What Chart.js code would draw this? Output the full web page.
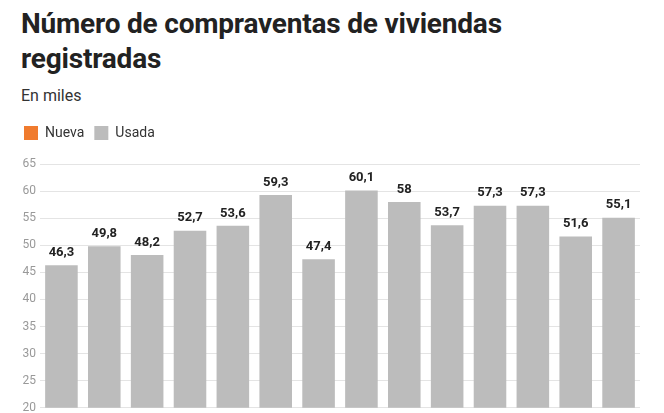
<!DOCTYPE html>
<html>
<head>
<meta charset="utf-8">
<script src="https://cdn.jsdelivr.net/npm/chart.js@4"></script>
<style>
  body { margin: 0; background: #fff; font-family: Roboto, sans-serif; overflow: hidden; width: 664px; height: 413px; position: relative; }
  h1 { margin: 0; position: absolute; left: 21px; top: 6px; font-size: 28px; line-height: 35px; font-weight: 700; color: #222; letter-spacing: -0.2px; }
  .sub { position: absolute; left: 21px; top: 86px; font-size: 16px; color: #333; }
  #wrap { position: absolute; left: 0; top: 116px; width: 664px; height: 303px; }
</style>
</head>
<body>
<h1>Número de compraventas de viviendas<br>registradas</h1>
<div class="sub">En miles</div>
<div id="wrap"><canvas id="chart"></canvas></div>
<script>
'use strict';

// data
var periods = ["1", "2", "3", "4", "5", "6", "7", "8", "9", "10", "11", "12", "13", "14"];
var nueva = [null, null, null, null, null, null, null, null, null, null, null, null, null, null];
var usada = [46.3, 49.8, 48.2, 52.7, 53.6, 59.3, 47.4, 60.1, 58, 53.7, 57.3, 57.3, 51.6, 55.1];

// value labels above bars
const barLabels = {
  id: 'barLabels',
  afterDatasetsDraw(chart) {
    const ctx = chart.ctx;
    const meta = chart.getDatasetMeta(1);
    ctx.save();
    ctx.font = 'bold 13px Roboto';
    ctx.fillStyle = '#222';
    ctx.textAlign = 'center';
    ctx.textBaseline = 'bottom';
    meta.data.forEach(function (bar, i) {
      ctx.fillText(String(usada[i]).replace('.', ','), bar.x, bar.y - 6);
    });
    ctx.restore();
  }
};

// extra gap under the legend
const legendGap = {
  id: 'legendGap',
  beforeInit(chart) {
    const fit = chart.legend.fit;
    chart.legend.fit = function () {
      fit.bind(chart.legend)();
      this.height += 14;
    };
  }
};

new Chart(document.getElementById('chart'), {
  type: 'bar',
  data: {
    labels: periods,
    datasets: [{
      label: 'Nueva',
      data: nueva,
      backgroundColor: '#f07b2e'
    }, {
      label: 'Usada',
      data: usada,
      backgroundColor: '#bcbcbc'
    }]
  },
  options: {
    responsive: true,
    maintainAspectRatio: false,
    animation: false,
    layout: { padding: { left: 14, right: 24, bottom: 0 } },
    plugins: {
      legend: {
        align: 'start',
        labels: { boxWidth: 14, boxHeight: 14, color: '#333', font: { family: 'Roboto', size: 14 }, padding: 10 }
      },
      tooltip: { enabled: false }
    },
    datasets: { bar: { grouped: false, barPercentage: 0.76, categoryPercentage: 1 } },
    scales: {
      x: {
        display: false
      },
      y: {
        min: 20,
        max: 65,
        afterFit(scale) { scale.width = 26; },
        ticks: { stepSize: 5, color: '#999', font: { family: 'Roboto', size: 12 }, padding: 4 },
        grid: { color: '#e4e4e4', drawTicks: false },
        border: { display: false }
      }
    }
  },
  plugins: [barLabels, legendGap]
});
</script>
</body>
</html>
